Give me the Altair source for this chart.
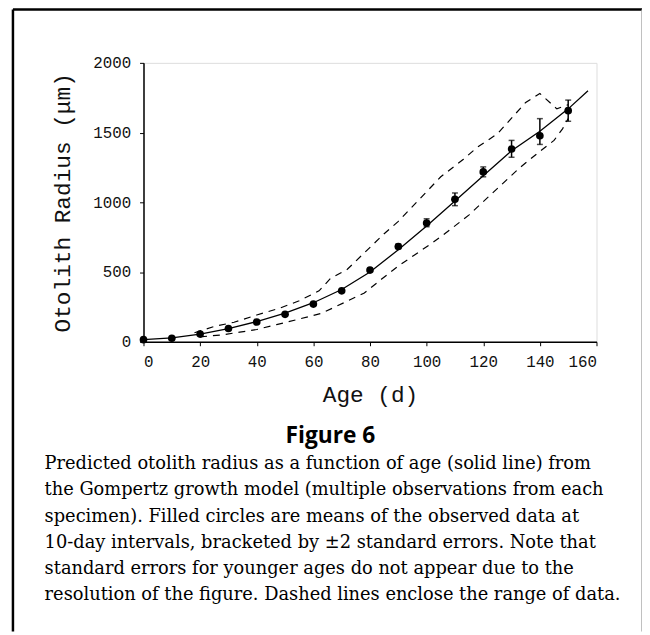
import altair as alt
import pandas as pd

# ---- data ----
ages = [0, 10, 20, 30, 40, 50, 60, 70, 80, 90, 100, 110, 120, 130, 140, 150]
means = [15, 25, 55, 95, 142, 197, 270, 365, 514, 683, 851, 1022, 1218, 1382, 1477, 1657]

err_age = [80, 90, 100, 110, 120, 130, 140, 150]
err_lo = [505, 668, 825, 976, 1183, 1323, 1415, 1581]
err_hi = [525, 700, 882, 1067, 1254, 1444, 1600, 1733]

model_age = [0, 10, 20, 30, 40, 50, 60, 70, 80, 90, 100, 110, 120, 130, 140, 150, 157]
model_val = [15, 28, 55, 95, 145, 205, 280, 375, 500, 660, 830, 1010, 1190, 1370, 1510, 1670, 1800]

upper_age = [18, 25, 32, 40, 48, 55, 62, 66, 72, 85, 90, 105, 113, 118, 125, 135, 140, 146, 150]
upper_val = [65, 110, 140, 192, 240, 294, 365, 453, 520, 775, 863, 1183, 1309, 1396, 1491, 1716, 1780, 1670, 1700]

lower_age = [20, 28, 34, 40, 47, 55, 63, 71, 78, 84, 90, 96, 102, 108, 115, 120, 133, 139, 145, 148, 150]
lower_val = [35, 50, 69, 88, 123, 163, 205, 282, 350, 448, 543, 626, 709, 799, 910, 1005, 1250, 1349, 1444, 1527, 1600]

x_ticks = [0, 10, 20, 30, 40, 50, 60, 70, 80, 90, 100, 110, 120, 130, 140, 150, 160]
y_ticks = [0, 500, 1000, 1500, 2000]

fig_label = "Figure 6"
caption = [
    "Predicted otolith radius as a function of age (solid line) from",
    "the Gompertz growth model (multiple observations from each",
    "specimen). Filled circles are means of the observed data at",
    "10-day intervals, bracketed by \u00b12 standard errors. Note that",
    "standard errors for younger ages do not appear due to the",
    "resolution of the figure. Dashed lines enclose the range of data.",
]

W, H = 458, 282
MONO = "Liberation Mono"

xs = alt.Scale(domain=[0, 160], nice=False)
ys = alt.Scale(domain=[0, 2000], nice=False)

df_mean = pd.DataFrame({"age": ages, "mean": means})
df_err = pd.DataFrame({"age": err_age, "lo": err_lo, "hi": err_hi})
df_model = pd.DataFrame({"age": model_age, "val": model_val})
df_up = pd.DataFrame({"age": upper_age, "val": upper_val})
df_low = pd.DataFrame({"age": lower_age, "val": lower_val})

x_axis = alt.Axis(
    values=x_ticks, labelExpr="datum.value % 20 == 0 ? datum.label : ''",
    title="Age  (d)", labelFont=MONO, labelFontSize=16, labelColor="#111",
    titleFont=MONO, titleFontSize=23, titleFontWeight="normal", titleColor="#111",
    titlePadding=14, tickSize=4, tickColor="#000", domainColor="#000",
    domainWidth=1.5, grid=False, labelPadding=8, format="d",
)
y_axis = alt.Axis(
    values=y_ticks, title="Otolith Radius  (\u03bcm)", labelFont=MONO,
    labelFontSize=16, labelColor="#111", titleFont=MONO, titleFontSize=23,
    titleFontWeight="normal", titleColor="#111", titlePadding=18, tickSize=4,
    tickColor="#000", domainColor="#000", domainWidth=1.5, grid=False,
    labelPadding=9, format="d",
)

base_x = alt.X("age:Q", scale=xs, axis=x_axis)

model = alt.Chart(df_model).mark_line(color="#000", strokeWidth=1.3).encode(
    x=base_x, y=alt.Y("val:Q", scale=ys, axis=y_axis)
)
upper = alt.Chart(df_up).mark_line(color="#000", strokeWidth=1.2, strokeDash=[7, 6]).encode(
    x=alt.X("age:Q", scale=xs), y=alt.Y("val:Q", scale=ys)
)
lower = alt.Chart(df_low).mark_line(color="#000", strokeWidth=1.2, strokeDash=[7, 6]).encode(
    x=alt.X("age:Q", scale=xs), y=alt.Y("val:Q", scale=ys)
)
errs = alt.Chart(df_err).mark_rule(color="#000", strokeWidth=1.5).encode(
    x=alt.X("age:Q", scale=xs), y=alt.Y("lo:Q", scale=ys), y2="hi:Q"
)
cap_lo = alt.Chart(df_err).mark_tick(color="#000", size=6, thickness=1.5, orient="horizontal").encode(
    x=alt.X("age:Q", scale=xs), y=alt.Y("lo:Q", scale=ys)
)
cap_hi = alt.Chart(df_err).mark_tick(color="#000", size=6, thickness=1.5, orient="horizontal").encode(
    x=alt.X("age:Q", scale=xs), y=alt.Y("hi:Q", scale=ys)
)
pts = alt.Chart(df_mean).mark_circle(color="#000", size=60, opacity=1).encode(
    x=alt.X("age:Q", scale=xs), y=alt.Y("mean:Q", scale=ys)
)

# frame around the whole figure
frame_left = alt.Chart(pd.DataFrame({"a": [0]})).mark_rule(color="#000", strokeWidth=2.5).encode(
    x=alt.value(-132), y=alt.value(-54), y2=alt.value(575)
)
frame_top = alt.Chart(pd.DataFrame({"a": [0]})).mark_rule(color="#000", strokeWidth=2.5).encode(
    x=alt.value(-132), x2=alt.value(504), y=alt.value(-54)
)
frame_right = alt.Chart(pd.DataFrame({"a": [0]})).mark_rule(color="#aaa", strokeWidth=1.5).encode(
    x=alt.value(504), y=alt.value(-54), y2=alt.value(575)
)

fig_title = alt.Chart(pd.DataFrame({"t": [fig_label]})).mark_text(
    font="Open Sans", fontSize=23, fontWeight="bold", align="center", baseline="middle", color="#000"
).encode(text="t:N", x=alt.value(189), y=alt.value(377))

cap_df = pd.DataFrame({"t": caption, "y": [406 + i * 26.4 for i in range(len(caption))]})
cap = alt.Chart(cap_df).mark_text(
    font="DejaVu Serif", fontSize=18, align="left", baseline="middle", color="#000"
).encode(text="t:N", x=alt.value(-100), y=alt.Y("y:Q", scale=None))

chart = alt.layer(
    model, upper, lower, errs, cap_lo, cap_hi, pts,
    frame_left, frame_top, frame_right, fig_title, cap,
).properties(
    width=W, height=H,
    autosize=alt.AutoSizeParams(type="none"),
    padding={"left": 137, "top": 52, "right": 46, "bottom": 293},
).configure_view(
    stroke="#000", strokeWidth=1.5, clip=False
).configure(background="white")

chart.save("out.html", embed_options={"renderer": "svg", "actions": False})
